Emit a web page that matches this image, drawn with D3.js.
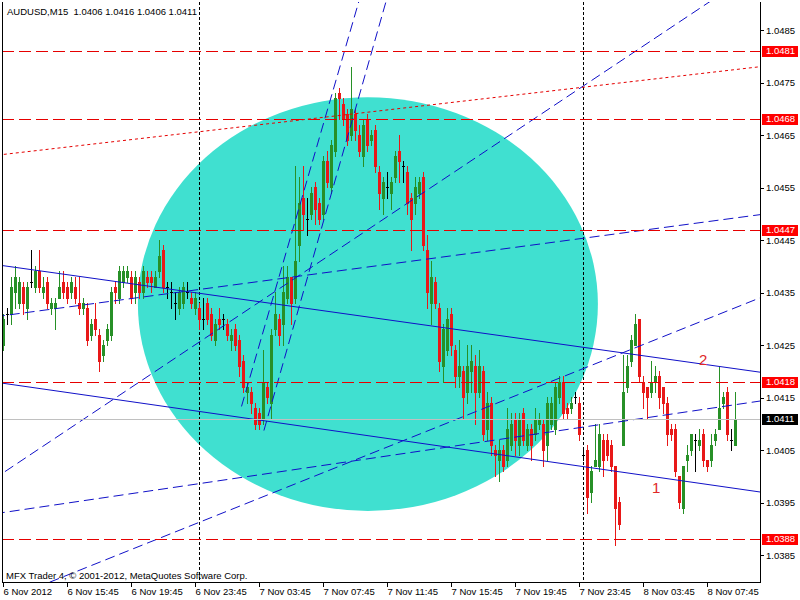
<!DOCTYPE html>
<html><head><meta charset="utf-8">
<script src="https://cdn.jsdelivr.net/npm/d3@7"></script>
<style>
html,body{margin:0;padding:0;background:#fff;}
svg{display:block;}
text{font-family:"Liberation Sans",Arial,sans-serif;font-size:9.5px;}
</style></head><body>
<svg id="chart" width="800" height="600"></svg>
<script>
const symbol = "AUDUSD", timeframe = "M15";
const copyright = "MFX Trader 4, \u00A9 2001-2012, MetaQuotes Software Corp.";

const opens = [
1.0425,1.0431,1.0431,1.0435,1.0433,1.0436,1.0432,1.0437,1.0436,1.0439,
1.0435,1.0437,1.0432,1.0432,1.0434,1.0437,1.0436,1.0435,1.0436,1.0433,
1.0432,1.0432,1.0427,1.0430,1.0427,1.0423,1.0426,1.0427,1.0436,1.0434,
1.0437,1.0438,1.0438,1.0435,1.0437,1.0435,1.0438,1.0438,1.0436,1.0439,
1.0443,1.0436,1.0435,1.0433,1.0432,1.0433,1.0435,1.0434,1.0432,1.0432,
1.0430,1.0433,1.0431,1.0426,1.0430,1.0430,1.0429,1.0426,1.0428,1.0426,
1.0422,1.0416,1.0416,1.0413,1.0412,1.0411,1.0417,1.0414,1.0428,1.0430,
1.0429,1.0434,1.0438,1.0434,1.0444,1.0453,1.0449,1.0450,1.0455,1.0452,
1.0450,1.0460,1.0455,1.0462,1.0473,1.0471,1.0469,1.0465,1.0469,1.0465,
1.0461,1.0468,1.0464,1.0466,1.0458,1.0453,1.0455,1.0454,1.0457,1.0462,
1.0459,1.0458,1.0453,1.0452,1.0454,1.0457,1.0443,1.0433,1.0437,1.0432,
1.0421,1.0424,1.0431,1.0424,1.0419,1.0420,1.0416,1.0420,1.0421,1.0416,
1.0420,1.0409,1.0414,1.0405,1.0403,1.0405,1.0403,1.0406,1.0411,1.0406,
1.0412,1.0406,1.0409,1.0408,1.0410,1.0410,1.0406,1.0410,1.0409,1.0415,
1.0418,1.0413,1.0413,1.0415,1.0414,1.0404,1.0405,1.0397,1.0402,1.0402,
1.0407,1.0407,1.0406,1.0402,1.0395,1.0406,1.0417,1.0422,1.0425,1.0430,
1.0418,1.0417,1.0416,1.0418,1.0419,1.0417,1.0414,1.0409,1.0409,1.0400,
1.0394,1.0403,1.0405,1.0407,1.0406,1.0408,1.0403,1.0403,1.0407,1.0409,
1.0414,1.0416,1.0407,1.0406];
const highs = [
1.0431,1.0432,1.0438,1.0440,1.0438,1.0437,1.0437,1.0443,1.0440,1.0443,
1.0438,1.0438,1.0434,1.0434,1.0439,1.0439,1.0437,1.0438,1.0438,1.0438,
1.0434,1.0433,1.0430,1.0433,1.0428,1.0426,1.0429,1.0436,1.0437,1.0440,
1.0440,1.0440,1.0439,1.0439,1.0438,1.0440,1.0439,1.0439,1.0439,1.0445,
1.0444,1.0437,1.0437,1.0435,1.0436,1.0437,1.0437,1.0435,1.0435,1.0433,
1.0434,1.0434,1.0432,1.0430,1.0432,1.0431,1.0430,1.0428,1.0429,1.0427,
1.0423,1.0418,1.0417,1.0414,1.0413,1.0424,1.0418,1.0428,1.0435,1.0431,
1.0440,1.0440,1.0438,1.0459,1.0457,1.0459,1.0453,1.0455,1.0456,1.0453,
1.0461,1.0462,1.0464,1.0473,1.0474,1.0472,1.0470,1.0478,1.0470,1.0467,
1.0468,1.0469,1.0466,1.0467,1.0459,1.0457,1.0458,1.0457,1.0462,1.0465,
1.0460,1.0459,1.0454,1.0457,1.0457,1.0458,1.0446,1.0441,1.0438,1.0433,
1.0429,1.0432,1.0432,1.0425,1.0426,1.0421,1.0425,1.0425,1.0423,1.0424,
1.0421,1.0416,1.0415,1.0406,1.0407,1.0406,1.0413,1.0412,1.0412,1.0412,
1.0413,1.0410,1.0410,1.0413,1.0412,1.0411,1.0415,1.0415,1.0418,1.0419,
1.0419,1.0414,1.0415,1.0416,1.0415,1.0405,1.0406,1.0402,1.0410,1.0410,
1.0408,1.0408,1.0407,1.0402,1.0396,1.0423,1.0423,1.0427,1.0431,1.0430,
1.0419,1.0417,1.0422,1.0421,1.0420,1.0417,1.0415,1.0410,1.0410,1.0400,
1.0402,1.0406,1.0408,1.0408,1.0409,1.0409,1.0403,1.0408,1.0409,1.0421,
1.0416,1.0417,1.0409,1.0416];
const lows = [
1.0424,1.0429,1.0429,1.0432,1.0432,1.0431,1.0430,1.0436,1.0435,1.0435,
1.0434,1.0432,1.0431,1.0428,1.0434,1.0434,1.0433,1.0434,1.0433,1.0431,
1.0431,1.0425,1.0426,1.0427,1.0420,1.0422,1.0425,1.0426,1.0433,1.0433,
1.0436,1.0437,1.0433,1.0433,1.0434,1.0434,1.0436,1.0435,1.0436,1.0438,
1.0435,1.0434,1.0432,1.0430,1.0431,1.0432,1.0434,1.0432,1.0431,1.0428,
1.0428,1.0429,1.0426,1.0425,1.0428,1.0428,1.0426,1.0424,1.0424,1.0419,
1.0416,1.0414,1.0412,1.0409,1.0409,1.0410,1.0414,1.0411,1.0427,1.0425,
1.0425,1.0433,1.0429,1.0433,1.0441,1.0447,1.0446,1.0449,1.0448,1.0448,
1.0449,1.0455,1.0454,1.0461,1.0468,1.0467,1.0463,1.0464,1.0464,1.0461,
1.0459,1.0462,1.0463,1.0458,1.0451,1.0450,1.0453,1.0451,1.0456,1.0456,
1.0456,1.0450,1.0443,1.0450,1.0453,1.0443,1.0432,1.0429,1.0432,1.0420,
1.0418,1.0423,1.0423,1.0417,1.0417,1.0411,1.0414,1.0416,1.0410,1.0415,
1.0407,1.0407,1.0404,1.0400,1.0399,1.0401,1.0402,1.0405,1.0404,1.0404,
1.0406,1.0405,1.0403,1.0407,1.0409,1.0402,1.0403,1.0409,1.0408,1.0414,
1.0411,1.0411,1.0412,1.0414,1.0407,1.0403,1.0393,1.0395,1.0402,1.0401,
1.0400,1.0403,1.0401,1.0387,1.0390,1.0406,1.0416,1.0421,1.0425,1.0418,
1.0413,1.0411,1.0415,1.0416,1.0413,1.0412,1.0406,1.0407,1.0400,1.0394,
1.0393,1.0401,1.0404,1.0401,1.0405,1.0402,1.0401,1.0402,1.0406,1.0409,
1.0413,1.0407,1.0405,1.0406];
const closes = [
1.0430,1.0431,1.0436,1.0438,1.0437,1.0433,1.0436,1.0437,1.0439,1.0436,
1.0436,1.0433,1.0433,1.0433,1.0436,1.0435,1.0434,1.0437,1.0434,1.0432,
1.0433,1.0426,1.0429,1.0428,1.0422,1.0425,1.0428,1.0435,1.0435,1.0439,
1.0439,1.0439,1.0434,1.0438,1.0435,1.0439,1.0437,1.0437,1.0438,1.0442,
1.0436,1.0436,1.0435,1.0433,1.0435,1.0436,1.0435,1.0433,1.0434,1.0430,
1.0430,1.0430,1.0427,1.0429,1.0429,1.0430,1.0427,1.0427,1.0425,1.0421,
1.0417,1.0417,1.0414,1.0410,1.0410,1.0418,1.0415,1.0427,1.0431,1.0427,
1.0435,1.0438,1.0433,1.0441,1.0452,1.0450,1.0449,1.0454,1.0451,1.0449,
1.0460,1.0456,1.0463,1.0472,1.0472,1.0468,1.0464,1.0470,1.0466,1.0462,
1.0467,1.0463,1.0465,1.0459,1.0454,1.0456,1.0455,1.0456,1.0461,1.0460,
1.0459,1.0452,1.0449,1.0455,1.0456,1.0444,1.0435,1.0438,1.0433,1.0422,
1.0428,1.0430,1.0425,1.0419,1.0421,1.0415,1.0421,1.0422,1.0416,1.0421,
1.0408,1.0414,1.0406,1.0404,1.0405,1.0402,1.0409,1.0410,1.0407,1.0411,
1.0407,1.0409,1.0406,1.0411,1.0411,1.0405,1.0414,1.0414,1.0417,1.0418,
1.0412,1.0412,1.0414,1.0415,1.0408,1.0404,1.0396,1.0401,1.0403,1.0408,
1.0403,1.0404,1.0402,1.0394,1.0391,1.0416,1.0421,1.0426,1.0429,1.0419,
1.0416,1.0415,1.0418,1.0419,1.0415,1.0414,1.0408,1.0408,1.0401,1.0395,
1.0402,1.0404,1.0408,1.0407,1.0407,1.0403,1.0402,1.0406,1.0408,1.0413,
1.0415,1.0408,1.0407,1.0411];

const priceTicks = [1.0485,1.0475,1.0465,1.0455,1.0445,1.0435,1.0425,1.0415,1.0405,1.0395,1.0385];
const tickBars = [0,16,32,48,64,80,96,112,128,144,160,176];
const tickLabels = ["6 Nov 2012","6 Nov 15:45","6 Nov 19:45","6 Nov 23:45","7 Nov 03:45","7 Nov 07:45",
  "7 Nov 11:45","7 Nov 15:45","7 Nov 19:45","7 Nov 23:45","8 Nov 03:45","8 Nov 07:45"];
const separatorBars = [49,145];
const levelPrices = [1.0481,1.0468,1.0447,1.0418,1.0388];
const bidPrice = 1.0411;
const ellipseBars = [33.6,148.6];
const ellipsePrices = [1.04722,1.03934];
// trend lines: two anchor points (bar, price)
const trendNames   = ["chanTop","chanBot","riseA","riseB","riseC","riseD","steep1","steep2","dotRed"];
const trendBar1    = [0,0,0,0,0,100,59.5,65.1,0];
const trendPrice1  = [1.04401,1.04177,1.04306,1.04007,1.03931,1.04068,1.04133,1.04087,1.04613];
const trendBar2    = [180,180,180,100,180,180,84.6,91.1,180];
const trendPrice2  = [1.04208,1.03980,1.04489,1.04515,1.04133,1.04312,1.04793,1.04783,1.04772];
const labelTexts  = ["1","2"];
const labelBars   = [162.1,173.9];
const labelPrices = [1.03968,1.04212];

// ---------- drawing ----------
const svg = d3.select("#chart");
const plotL = 2, plotT = 2, plotR = 760, plotB = 582;
const x = d3.scaleLinear().domain([0,183]).range([3.5,735.5]);
const y = d3.scaleLinear().domain([1.0385,1.0485]).range([555,30]);

const GREEN = "#279027", RED = "#E81818", TURQ = "#40E0D0", BLUE = "#1010C8", LRED = "#E60000";

svg.append("rect").attr("width",800).attr("height",600).attr("fill","#fff");
svg.append("defs").append("clipPath").attr("id","plot")
  .append("rect").attr("x",plotL+1).attr("y",plotT).attr("width",plotR-plotL-1).attr("height",plotB-plotT);

const plot = svg.append("g").attr("clip-path","url(#plot)");

// ellipse (background)
const ex0 = x(ellipseBars[0]), ex1 = x(ellipseBars[1]);
const ey0 = y(ellipsePrices[0]), ey1 = y(ellipsePrices[1]);
plot.append("ellipse")
  .attr("cx",(ex0+ex1)/2).attr("cy",(ey0+ey1)/2)
  .attr("rx",Math.abs(ex1-ex0)/2).attr("ry",Math.abs(ey1-ey0)/2)
  .attr("fill",TURQ);

// period separators
plot.selectAll("line.sep").data(separatorBars).enter().append("line").attr("class","sep")
  .attr("x1",d=>Math.round(x(d)-0.5)+0.5).attr("x2",d=>Math.round(x(d)-0.5)+0.5)
  .attr("y1",plotT).attr("y2",plotB)
  .attr("stroke","#000").attr("stroke-dasharray","3,2").attr("shape-rendering","crispEdges");

// candles
const bars = d3.range(opens.length).map(i=>({i,o:opens[i],h:highs[i],l:lows[i],c:closes[i]}));
const col = d => d.c>d.o ? GREEN : (d.c<d.o ? RED : "#000");
const cg = plot.append("g").attr("shape-rendering","crispEdges");
cg.selectAll("rect.wick").data(bars).enter().append("rect").attr("class","wick")
  .attr("x",d=>x(d.i)-0.5).attr("width",1)
  .attr("y",d=>Math.round(y(d.h)))
  .attr("height",d=>Math.round(y(d.l))-Math.round(y(d.h))+1)
  .attr("fill",col);
cg.selectAll("rect.body").data(bars).enter().append("rect").attr("class","body")
  .attr("x",d=>x(d.i)-1.5).attr("width",3)
  .attr("y",d=>Math.round(y(Math.max(d.o,d.c))))
  .attr("height",d=>Math.max(1,Math.round(y(Math.min(d.o,d.c)))-Math.round(y(Math.max(d.o,d.c)))+1))
  .attr("fill",col);

// trend lines
function lineEnds(i){
  const xa=x(trendBar1[i]), ya=y(trendPrice1[i]), xb=x(trendBar2[i]), yb=y(trendPrice2[i]);
  const k=(yb-ya)/(xb-xa);
  const isRay = trendNames[i].startsWith("steep");
  const xs = isRay ? xa : -20, xe = 820;
  return [xs, ya+k*(xs-xa), xe, ya+k*(xe-xa)];
}
trendNames.forEach((n,i)=>{
  const [x1,y1,x2,y2]=lineEnds(i);
  const solid = n.startsWith("chan");
  const dotted = n==="dotRed";
  plot.append("line").attr("x1",x1).attr("y1",y1).attr("x2",x2).attr("y2",y2)
    .attr("stroke", dotted ? LRED : BLUE).attr("stroke-width",1)
    .attr("stroke-dasharray", solid ? null : (dotted ? "3,3" : "10,5"));
});

// horizontal levels
plot.selectAll("line.lvl").data(levelPrices).enter().append("line").attr("class","lvl")
  .attr("x1",plotL).attr("x2",plotR)
  .attr("y1",d=>Math.round(y(d))+0.5).attr("y2",d=>Math.round(y(d))+0.5)
  .attr("stroke",LRED).attr("stroke-dasharray","12,5").attr("shape-rendering","crispEdges");

// bid line
plot.append("line").attr("x1",plotL).attr("x2",plotR)
  .attr("y1",Math.round(y(bidPrice))+0.5).attr("y2",Math.round(y(bidPrice))+0.5)
  .attr("stroke","#C0C0C0").attr("shape-rendering","crispEdges");

// annotations
plot.selectAll("text.ann").data(labelTexts).enter().append("text").attr("class","ann")
  .attr("x",(d,i)=>x(labelBars[i])).attr("y",(d,i)=>y(labelPrices[i]))
  .attr("fill","#E02828").style("font-size","15px").text(d=>d);

// frame
const fr = svg.append("g").attr("shape-rendering","crispEdges").attr("stroke","#000");
fr.append("line").attr("x1",plotL+0.5).attr("x2",plotL+0.5).attr("y1",plotT).attr("y2",plotB+1);
fr.append("line").attr("x1",plotR+0.5).attr("x2",plotR+0.5).attr("y1",plotT).attr("y2",plotB+1);
fr.append("line").attr("x1",plotL).attr("x2",plotR+1).attr("y1",plotB+0.5).attr("y2",plotB+0.5);

// right axis
const yAxis = d3.axisRight(y).tickValues(priceTicks).tickFormat(d3.format(".4f")).tickSize(3).tickPadding(3);
const gy = svg.append("g").attr("transform",`translate(${plotR+1},0)`).call(yAxis);
gy.select(".domain").remove();
gy.attr("font-family",null).attr("font-size",null);
gy.selectAll("line").attr("stroke","#000").attr("shape-rendering","crispEdges");
gy.selectAll("text").attr("fill","#000").attr("x",5).attr("dy","0.34em");

// bottom axis
const xAxis = d3.axisBottom(x).tickValues(tickBars).tickFormat((d,i)=>tickLabels[i]).tickSize(4).offset(0);
const gx = svg.append("g").attr("transform",`translate(0,${plotB+1})`).call(xAxis);
gx.select(".domain").remove();
gx.attr("font-family",null).attr("font-size",null);
gx.selectAll("line").attr("stroke","#000").attr("shape-rendering","crispEdges");
gx.selectAll("text").attr("fill","#000").attr("text-anchor","start").attr("x",0).attr("y",12).attr("dy",0);

// price labels on axis
const lg = svg.append("g");
const allLabels = levelPrices.map(p=>({p,bg:"#FF0000"})).concat([{p:bidPrice,bg:"#000"}]);
lg.selectAll("rect").data(allLabels).enter().append("rect")
  .attr("x",plotR+2).attr("width",36).attr("y",d=>Math.round(y(d.p))-5).attr("height",11)
  .attr("fill",d=>d.bg).attr("shape-rendering","crispEdges");
lg.selectAll("text").data(allLabels).enter().append("text")
  .attr("x",plotR+6).attr("y",d=>y(d.p)).attr("dy","0.34em").attr("fill","#fff")
  .text(d=>d3.format(".4f")(d.p));

// header and footer
const last = opens.length-1, f4 = d3.format(".4f");
svg.append("text").attr("x",7).attr("y",15).style("white-space","pre")
  .text(`${symbol},${timeframe}  ${f4(opens[last])} ${f4(highs[last])} ${f4(lows[last])} ${f4(closes[last])}`);
svg.append("text").attr("x",6).attr("y",579).text(copyright);
</script>
</body></html>
